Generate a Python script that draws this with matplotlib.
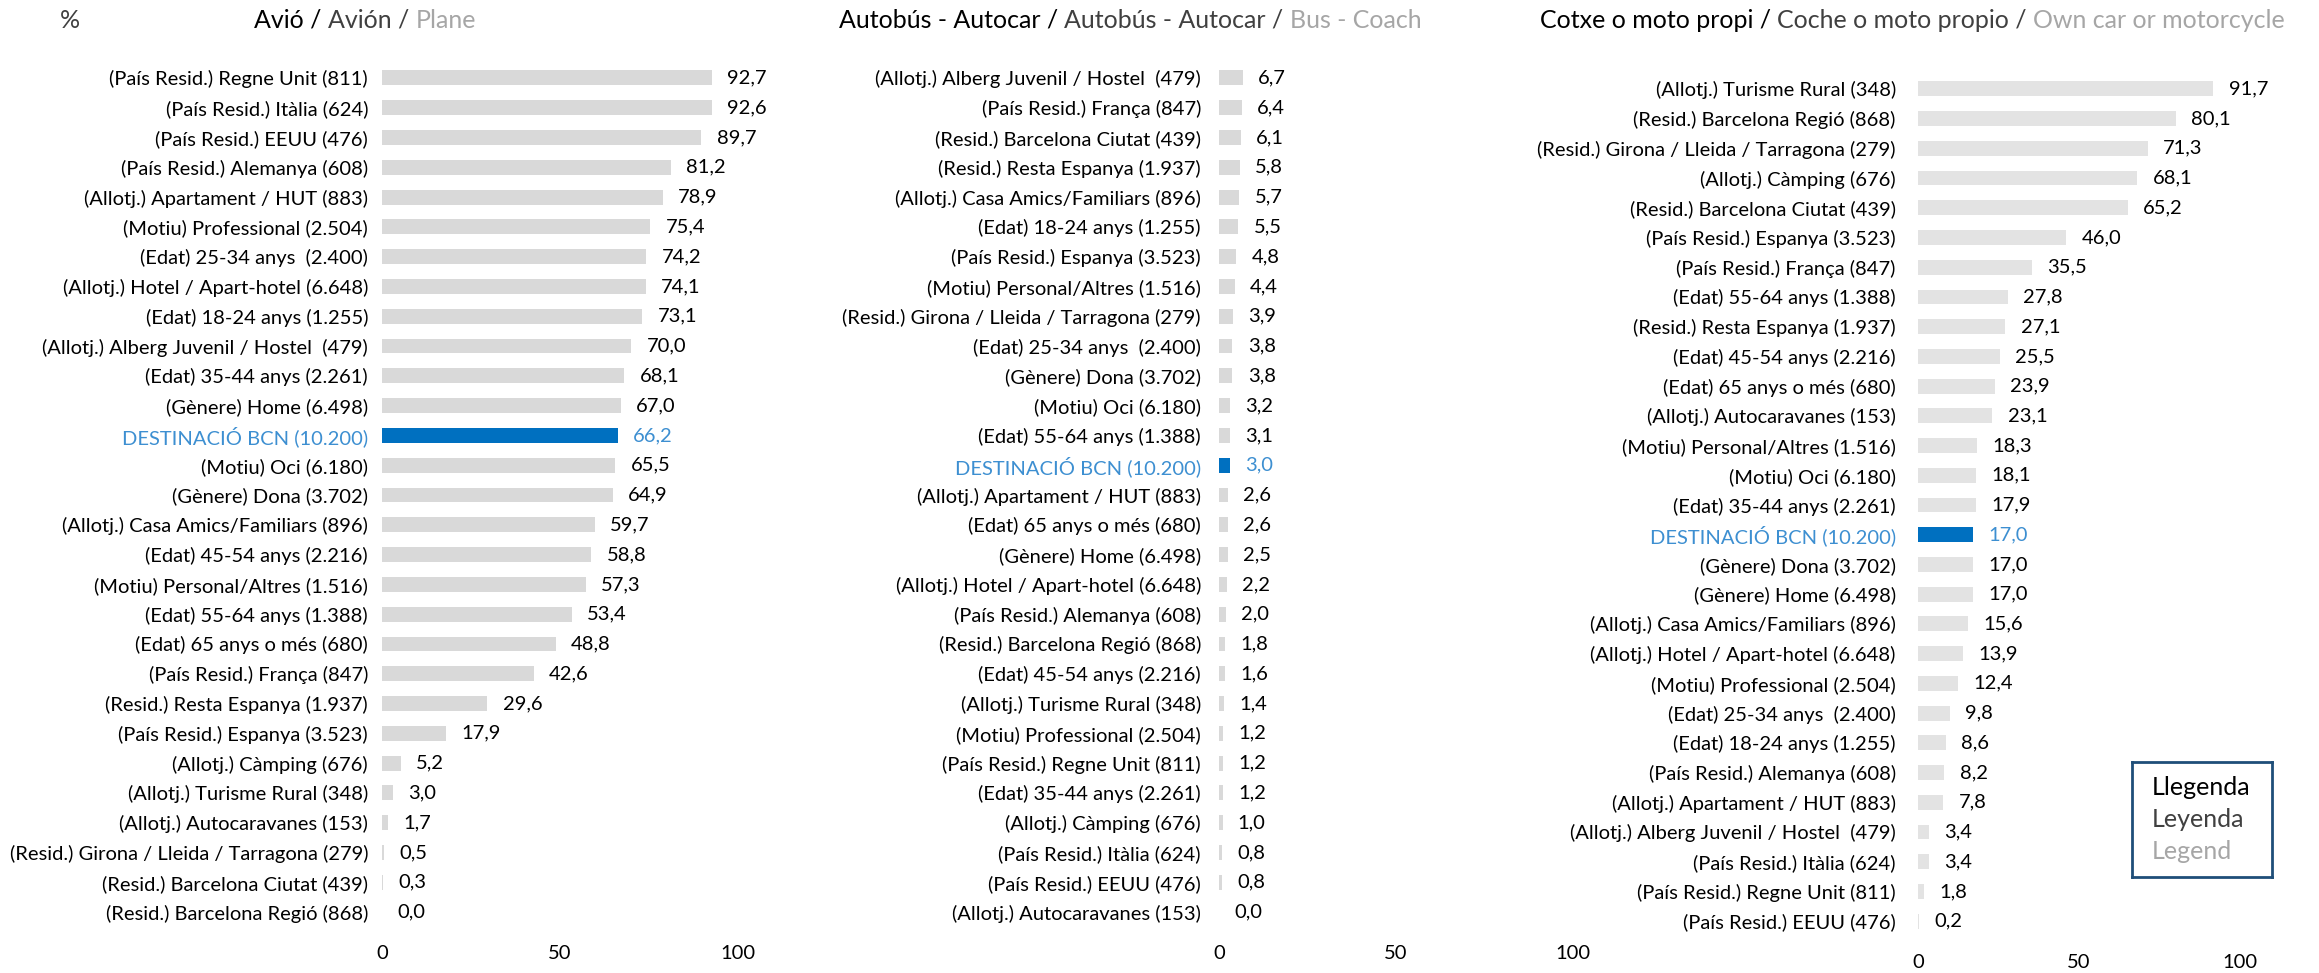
import matplotlib
matplotlib.use("Agg")
import matplotlib.pyplot as plt

plt.rcParams['font.family'] = ['Lato', 'DejaVu Sans']

# --- dades ---
avio_cats = [
    "(País Resid.) Regne Unit (811)", "(País Resid.) Itàlia (624)", "(País Resid.) EEUU (476)",
    "(País Resid.) Alemanya (608)", "(Allotj.) Apartament / HUT (883)", "(Motiu) Professional (2.504)",
    "(Edat) 25-34 anys  (2.400)", "(Allotj.) Hotel / Apart-hotel (6.648)", "(Edat) 18-24 anys (1.255)",
    "(Allotj.) Alberg Juvenil / Hostel  (479)", "(Edat) 35-44 anys (2.261)", "(Gènere) Home (6.498)",
    "DESTINACIÓ BCN (10.200)", "(Motiu) Oci (6.180)", "(Gènere) Dona (3.702)",
    "(Allotj.) Casa Amics/Familiars (896)", "(Edat) 45-54 anys (2.216)", "(Motiu) Personal/Altres (1.516)",
    "(Edat) 55-64 anys (1.388)", "(Edat) 65 anys o més (680)", "(País Resid.) França (847)",
    "(Resid.) Resta Espanya (1.937)", "(País Resid.) Espanya (3.523)", "(Allotj.) Càmping (676)",
    "(Allotj.) Turisme Rural (348)", "(Allotj.) Autocaravanes (153)",
    "(Resid.) Girona / Lleida / Tarragona (279)", "(Resid.) Barcelona Ciutat (439)",
    "(Resid.) Barcelona Regió (868)",
]
avio_vals = [92.7, 92.6, 89.7, 81.2, 78.9, 75.4, 74.2, 74.1, 73.1, 70.0, 68.1, 67.0, 66.2, 65.5,
             64.9, 59.7, 58.8, 57.3, 53.4, 48.8, 42.6, 29.6, 17.9, 5.2, 3.0, 1.7, 0.5, 0.3, 0.0]

bus_cats = [
    "(Allotj.) Alberg Juvenil / Hostel  (479)", "(País Resid.) França (847)", "(Resid.) Barcelona Ciutat (439)",
    "(Resid.) Resta Espanya (1.937)", "(Allotj.) Casa Amics/Familiars (896)", "(Edat) 18-24 anys (1.255)",
    "(País Resid.) Espanya (3.523)", "(Motiu) Personal/Altres (1.516)",
    "(Resid.) Girona / Lleida / Tarragona (279)", "(Edat) 25-34 anys  (2.400)", "(Gènere) Dona (3.702)",
    "(Motiu) Oci (6.180)", "(Edat) 55-64 anys (1.388)", "DESTINACIÓ BCN (10.200)",
    "(Allotj.) Apartament / HUT (883)", "(Edat) 65 anys o més (680)", "(Gènere) Home (6.498)",
    "(Allotj.) Hotel / Apart-hotel (6.648)", "(País Resid.) Alemanya (608)", "(Resid.) Barcelona Regió (868)",
    "(Edat) 45-54 anys (2.216)", "(Allotj.) Turisme Rural (348)", "(Motiu) Professional (2.504)",
    "(País Resid.) Regne Unit (811)", "(Edat) 35-44 anys (2.261)", "(Allotj.) Càmping (676)",
    "(País Resid.) Itàlia (624)", "(País Resid.) EEUU (476)", "(Allotj.) Autocaravanes (153)",
]
bus_vals = [6.7, 6.4, 6.1, 5.8, 5.7, 5.5, 4.8, 4.4, 3.9, 3.8, 3.8, 3.2, 3.1, 3.0, 2.6, 2.6, 2.5,
            2.2, 2.0, 1.8, 1.6, 1.4, 1.2, 1.2, 1.2, 1.0, 0.8, 0.8, 0.0]

cotxe_cats = [
    "(Allotj.) Turisme Rural (348)", "(Resid.) Barcelona Regió (868)",
    "(Resid.) Girona / Lleida / Tarragona (279)", "(Allotj.) Càmping (676)",
    "(Resid.) Barcelona Ciutat (439)", "(País Resid.) Espanya (3.523)", "(País Resid.) França (847)",
    "(Edat) 55-64 anys (1.388)", "(Resid.) Resta Espanya (1.937)", "(Edat) 45-54 anys (2.216)",
    "(Edat) 65 anys o més (680)", "(Allotj.) Autocaravanes (153)", "(Motiu) Personal/Altres (1.516)",
    "(Motiu) Oci (6.180)", "(Edat) 35-44 anys (2.261)", "DESTINACIÓ BCN (10.200)",
    "(Gènere) Dona (3.702)", "(Gènere) Home (6.498)", "(Allotj.) Casa Amics/Familiars (896)",
    "(Allotj.) Hotel / Apart-hotel (6.648)", "(Motiu) Professional (2.504)", "(Edat) 25-34 anys  (2.400)",
    "(Edat) 18-24 anys (1.255)", "(País Resid.) Alemanya (608)", "(Allotj.) Apartament / HUT (883)",
    "(Allotj.) Alberg Juvenil / Hostel  (479)", "(País Resid.) Itàlia (624)",
    "(País Resid.) Regne Unit (811)", "(País Resid.) EEUU (476)",
]
cotxe_vals = [91.7, 80.1, 71.3, 68.1, 65.2, 46.0, 35.5, 27.8, 27.1, 25.5, 23.9, 23.1, 18.3, 18.1,
              17.9, 17.0, 17.0, 17.0, 15.6, 13.9, 12.4, 9.8, 8.6, 8.2, 7.8, 3.4, 3.4, 1.8, 0.2]

titols = [
    ("Avió / ", "Avión / ", "Plane"),
    ("Autobús - Autocar / ", "Autobús - Autocar / ", "Bus - Coach"),
    ("Cotxe o moto propi / ", "Coche o moto propio / ", "Own car or motorcycle"),
]
ticks = [0, 50, 100]
destacat = "DESTINACIÓ BCN (10.200)"

GRIS = '#d9d9d9'
BLAU = '#0070c0'
BLAU_TXT = '#3d8fd1'

W, H = 2319, 973
fig = plt.figure(figsize=(W / 100, H / 100), dpi=100)


def px_axes(x0, x1, top, bottom):
    return fig.add_axes([x0 / W, 1 - bottom / H, (x1 - x0) / W, (bottom - top) / H])


def panell(ax, cats, vals, gris, pad):
    n = len(cats)
    ys = list(range(n))
    colors = [BLAU if c == destacat else gris for c in cats]
    ax.barh(ys, vals, height=0.5, color=colors)
    ax.set_xlim(0, 100)
    ax.set_ylim(n - 0.5, -0.5)
    ax.set_yticks(ys)
    ax.set_yticklabels(cats, fontsize=14.5)
    for lbl, c in zip(ax.get_yticklabels(), cats):
        if c == destacat:
            lbl.set_color(BLAU_TXT)
    ax.set_xticks(ticks)
    ax.set_xticklabels([str(t) for t in ticks], fontsize=14.5)
    ax.tick_params(axis='y', length=0, pad=pad)
    ax.tick_params(axis='x', length=0, pad=13)
    for s in ax.spines.values():
        s.set_visible(False)
    for y, v, c in zip(ys, vals, cats):
        ax.annotate(f"{v:.1f}".replace('.', ','), (v, y), xytext=(11, 0),
                    textcoords='offset points', va='center', ha='left', fontsize=14.5,
                    color=BLAU_TXT if c == destacat else 'black')


ax1 = px_axes(382, 738, 63, 927)
ax2 = px_axes(1219, 1573, 63, 927)
ax3 = px_axes(1918, 2240, 74, 936)
panell(ax1, avio_cats, avio_vals, GRIS, 10)
panell(ax2, bus_cats, bus_vals, GRIS, 13)
panell(ax3, cotxe_cats, cotxe_vals, '#e3e3e3', 16)

# titols en tres colors, un tros darrere l'altre
starts = [254, 839, 1540]
base_y = 1 - 28 / H
r = fig.canvas.get_renderer()
inv = fig.transFigure.inverted()
for (a, b, c), x0 in zip(titols, starts):
    x = x0 / W
    for txt, col in [(a, 'black'), (b, '#404040'), (c, '#a6a6a6')]:
        t = fig.text(x, base_y, txt, fontsize=18, color=col, va='baseline', ha='left')
        bb = t.get_window_extent(r)
        x = inv.transform((bb.x1, 0))[0]

fig.text(70 / W, 1 - 20 / H, "%", fontsize=18, color='#404040', va='center', ha='center')

# llegenda
lax = px_axes(2132, 2272, 762, 877)
lax.set_xticks([])
lax.set_yticks([])
for s in lax.spines.values():
    s.set_color('#1f4e79')
    s.set_linewidth(2)
lax.text(0.14, 0.78, "Llegenda", transform=lax.transAxes, fontsize=18, color='black', va='center')
lax.text(0.14, 0.50, "Leyenda", transform=lax.transAxes, fontsize=18, color='#404040', va='center')
lax.text(0.14, 0.22, "Legend", transform=lax.transAxes, fontsize=18, color='#a6a6a6', va='center')

fig.savefig("out.png", dpi=100)
